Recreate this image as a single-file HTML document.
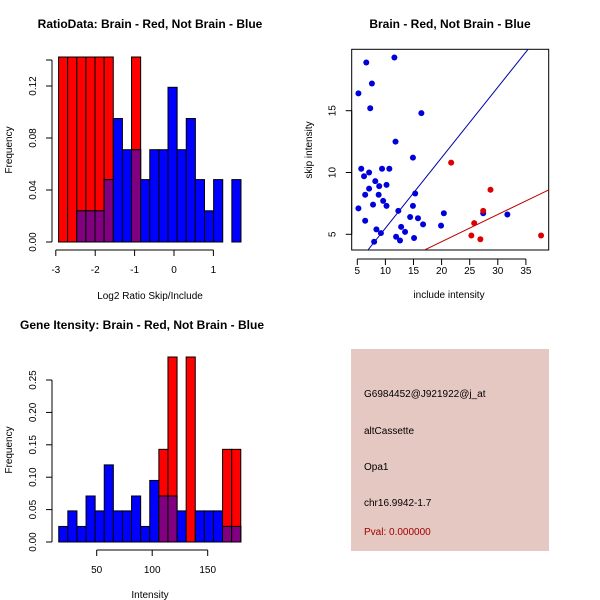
<!DOCTYPE html>
<html><head><meta charset="utf-8"><style>
body{margin:0;background:#fff}
svg{display:block;font-family:"Liberation Sans",sans-serif}
</style></head><body>
<svg id="s" width="600" height="600" viewBox="0 0 600 600">
<rect width="600" height="600" fill="#fff"/>
<text x="150" y="28" font-size="12" font-weight="bold" text-anchor="middle">RatioData: Brain - Red, Not Brain - Blue</text>
<text x="450" y="28" font-size="12" font-weight="bold" text-anchor="middle">Brain - Red, Not Brain - Blue</text>
<text x="142" y="329" font-size="12" font-weight="bold" text-anchor="middle">Gene Itensity: Brain - Red, Not Brain - Blue</text>
<text x="150" y="299" font-size="10" text-anchor="middle">Log2 Ratio Skip/Include</text>
<text x="12" y="150" font-size="10" text-anchor="middle" transform="rotate(-90 12 150)">Frequency</text>
<text x="449" y="298" font-size="10" text-anchor="middle">include intensity</text>
<text x="312" y="150" font-size="10" text-anchor="middle" transform="rotate(-90 312 150)">skip intensity</text>
<text x="150" y="598" font-size="10" text-anchor="middle">Intensity</text>
<text x="12" y="450" font-size="10" text-anchor="middle" transform="rotate(-90 12 450)">Frequency</text>
<g>
<rect x="351" y="349" width="198" height="202" fill="#e6c8c2"/>
<text x="364" y="397" font-size="10">G6984452@J921922@j_at</text>
<text x="364" y="434" font-size="10">altCassette</text>
<text x="364" y="470" font-size="10">Opa1</text>
<text x="364" y="506" font-size="10">chr16.9942-1.7</text>
<text x="364" y="535" font-size="10" fill="#a00000">Pval: 0.000000</text>
</g>
<g id="g1"></g>
<g id="g2"></g>
<g id="g3"></g>
</svg>
<script>
// Ratio histogram data
const ratioBinStart = -2.93, ratioBinWidth = 0.2315;
const ratioBlue = [0,0,0.024,0.024,0.024,0.048,0.095,0.071,0.071,0.048,0.071,0.071,0.119,0.071,0.095,0.048,0.024,0.048,0,0.048];
const ratioRed  = [0.2,0.2,0.2,0.2,0.2,0.2,0,0,0.2,0,0,0,0,0,0,0,0,0,0,0];
const ratioYTicks = [0,0.04,0.08,0.12,0.14];
const ratioYLabels = ["0.00","0.04","0.08","0.12",""];
const ratioXTicks = [-3,-2,-1,0,1];
// Intensity histogram data
const intBinStart = 15.8, intBinWidth = 8.2;
const intBlue = [0.024,0.048,0.024,0.071,0.048,0.119,0.048,0.048,0.071,0.024,0.095,0.071,0.071,0.048,0,0.048,0.048,0.048,0.024,0.024];
const intRed  = [0,0,0,0,0,0,0,0,0,0,0,0.143,0.286,0,0.286,0,0,0,0.143,0.143];
const intYTicks = [0,0.05,0.10,0.15,0.20,0.25];
const intYLabels = ["0.00","0.05","0.10","0.15","0.20","0.25"];
const intXTicks = [50,100,150];
// Scatter data
const blueX = [5.2,6.6,7.6,11.6,7.3,16.4,11.8,14.9,5.7,7.1,9.4,10.7,6.2,8.2,7.1,8.9,10.2,6.4,8.8,9.6,7.8,10.2,5.2,15.3,14.9,12.3,6.4,14.4,15.8,16.7,12.8,13.5,8.4,9.2,8.0,11.9,12.6,15.1,19.9,20.4,27.4,31.7];
const blueY = [16.4,18.9,17.2,19.3,15.2,14.8,12.5,11.2,10.3,10.0,10.3,10.3,9.7,9.3,8.7,8.9,9.0,8.2,8.2,7.7,7.4,7.3,7.1,8.3,7.3,6.9,6.1,6.4,6.3,5.8,5.6,5.2,5.4,5.1,4.4,4.8,4.5,4.7,5.7,6.7,6.7,6.6];
const redX = [21.7,28.7,27.4,25.8,25.3,26.9,37.7];
const redY = [10.8,8.6,6.9,5.9,4.9,4.6,4.9];
const blueLine = [0.57,-0.2]; // slope, intercept
const redLine = [0.22,0];
const scXTicks = [5,10,15,20,25,30,35];
const scYTicks = [5,10,15];

const NS="http://www.w3.org/2000/svg";
function mk(p,t,a){const e=document.createElementNS(NS,t);for(const k in a)e.setAttribute(k,a[k]);p.appendChild(e);return e;}

function hist(g,o){
  const X=v=>o.x0+(v-o.xv0)*o.xs, Y=v=>o.y0-v*o.ys;
  const top=o.top;
  o.blue.forEach((b,i)=>{
    const r=o.red[i], l=X(o.start+i*o.w), w=o.w*o.xs;
    const hb=Math.max(Y(b),top), hr=Math.max(Y(r),top);
    if(r>0){const e=mk(g,'rect',{x:l,y:hr,width:w,height:o.y0-hr,fill:'#ff0000',stroke:'#000','stroke-width':1});
      
      }
    if(b>0){const e=mk(g,'rect',{x:l,y:hb,width:w,height:o.y0-hb,fill:'#0000ff',stroke:'#000','stroke-width':1});
      
      }
    const m=Math.min(b,r);
    if(m>0){const hm=Math.max(Y(m),top);const e=mk(g,'rect',{x:l,y:hm,width:w,height:o.y0-hm,fill:'#800080',stroke:'#000','stroke-width':1});
      
      }
  });
  const ya=o.axX;
  mk(g,'line',{x1:ya,x2:ya,y1:Y(o.yt[0]),y2:Y(o.yt[o.yt.length-1]),stroke:'#000'});
  o.yt.forEach((t,i)=>{mk(g,'line',{x1:ya,x2:ya-6,y1:Y(t),y2:Y(t),stroke:'#000'});
    if(o.yl[i]){const e=mk(g,'text',{x:ya-16,y:Y(t),'font-size':10,'text-anchor':'middle',transform:`rotate(-90 ${ya-16} ${Y(t)})`});e.textContent=o.yl[i];
      
      }});
  const xa=o.axY;
  mk(g,'line',{x1:X(o.xt[0]),x2:X(o.xt[o.xt.length-1]),y1:xa,y2:xa,stroke:'#000'});
  o.xt.forEach(t=>{mk(g,'line',{x1:X(t),x2:X(t),y1:xa,y2:xa+6,stroke:'#000'});
    const e=mk(g,'text',{x:X(t),y:xa+23,'font-size':10,'text-anchor':'middle'});e.textContent=t;
    
    });
}
hist(document.getElementById('g1'),{x0:174,xv0:0,xs:39.4,y0:242,ys:1300,top:57,start:ratioBinStart,w:ratioBinWidth,blue:ratioBlue,red:ratioRed,yt:ratioYTicks,yl:ratioYLabels,xt:ratioXTicks,axX:52,axY:250});
hist(document.getElementById('g3'),{x0:96.7,xv0:50,xs:1.11,y0:542,ys:648,top:357,start:intBinStart,w:intBinWidth,blue:intBlue,red:intRed,yt:intYTicks,yl:intYLabels,xt:intXTicks,axX:52,axY:550});

(function(){
  const g=document.getElementById('g2');
  const X=v=>357.3+(v-5)*5.62, Y=v=>234.3-(v-5)*12.36;
  const L=351.7,R=548.7,T=49.3,B=250;
  mk(g,'rect',{x:L,y:T,width:R-L,height:B-T,fill:'none',stroke:'#000'});
  const cp=mk(g,'clipPath',{id:'cp'});mk(cp,'rect',{x:L,y:T,width:R-L,height:B-T});
  const xmin=5+(L-357.3)/5.62, xmax=5+(R-357.3)/5.62;
  [[blueLine,'#0000aa','blue-regression-line'],[redLine,'#bb0000','red-regression-line']].forEach(([ln,c,n])=>{
    const e=mk(g,'line',{x1:X(xmin),y1:Y(ln[0]*xmin+ln[1]),x2:X(xmax),y2:Y(ln[0]*xmax+ln[1]),stroke:c,'clip-path':'url(#cp)'});
    
    
  });
  blueX.forEach((x,i)=>{const e=mk(g,'circle',{cx:X(x),cy:Y(blueY[i]),r:3,fill:'#0000dd'});
    
    });
  redX.forEach((x,i)=>{const e=mk(g,'circle',{cx:X(x),cy:Y(redY[i]),r:3,fill:'#dd0000'});
    
    });
  mk(g,'line',{x1:X(5),x2:X(35),y1:259,y2:259,stroke:'#000'});
  scXTicks.forEach(t=>{mk(g,'line',{x1:X(t),x2:X(t),y1:259,y2:265,stroke:'#000'});
    const e=mk(g,'text',{x:X(t),y:274,'font-size':10,'text-anchor':'middle'});e.textContent=t;
    
    });
  mk(g,'line',{x1:L,x2:L,y1:Y(5),y2:Y(15),stroke:'#000'});
  scYTicks.forEach(t=>{mk(g,'line',{x1:L,x2:L-6,y1:Y(t),y2:Y(t),stroke:'#000'});
    const e=mk(g,'text',{x:L-16,y:Y(t),'font-size':10,'text-anchor':'middle',transform:`rotate(-90 ${L-16} ${Y(t)})`});e.textContent=t;
    
    });
})();
</script>
</body></html>
